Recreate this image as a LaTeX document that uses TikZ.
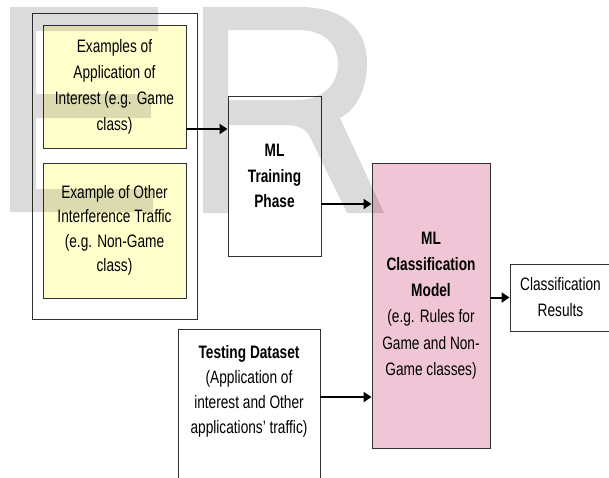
\documentclass[tikz,border=0pt]{standalone}
\usepackage{fontspec}
\setmainfont[FakeStretch=0.76]{Liberation Sans}
\usetikzlibrary{arrows.meta}
\definecolor{boxyellow}{HTML}{FFFFCC}
\definecolor{boxpink}{HTML}{F0C6D6}
\definecolor{edgegray}{HTML}{333333}
\begin{document}
\begin{tikzpicture}[x=1pt,y=-1pt,
  box/.style={draw=edgegray, line width=0.9pt, align=center, inner sep=0pt},
  txt/.style={font=\fontsize{18}{26}\selectfont},
  arr/.style={line width=2pt, -{Triangle[length=8pt,width=10pt]}},
  wmark/.style={fill=black, fill opacity=0.14, even odd rule, draw=none}]
\useasboundingbox (0,0) rectangle (609,477);
% boxes
\node[box, minimum width=165pt, minimum height=306pt] (outer) at (114.5,166) {};
\node[box, txt, fill=boxyellow, minimum width=143pt, minimum height=123pt] (ex1) at (114.5,86.5)
  {Examples of\\Application of\\Interest (e.g. Game\\class)};
\node[box, fill=boxyellow, minimum width=143pt, minimum height=135pt,
  font=\fontsize{18}{24.5}\selectfont] (ex2) at (114.5,230.5)
  {Example of Other\\Interference Traffic\\(e.g. Non-Game\\class)};
\node[box, fill=white, minimum width=93pt, minimum height=160pt,
  font=\fontsize{18}{25.5}\selectfont] (train) at (274.5,176)
  {{\bfseries ML}\\{\bfseries Training}\\{\bfseries Phase}};
\node[box, fill=boxpink, minimum width=118pt, minimum height=285pt,
  font=\fontsize{18}{26.3}\selectfont] (cls) at (431,305.5)
  {{\bfseries ML}\\{\bfseries Classification}\\{\bfseries Model}\\(e.g. Rules for\\Game and Non-\\Game classes)};
\node[box, fill=white, minimum width=101pt, minimum height=67pt,
  font=\fontsize{18}{26}\selectfont] (res) at (560.5,297.5)
  {Classification\\Results};
\node[box, fill=white, minimum width=142pt, minimum height=170pt] (test) at (249,414) {};
\node[align=center, inner sep=0pt, font=\fontsize{18}{25}\selectfont] (testtxt) at (249,391)
  {{\bfseries Testing Dataset}\\(Application of\\interest and Other\\applications’ traffic)};
% connectors
\coordinate (t1) at ([yshift=47pt]train.west);
\draw[arr] (t1 -| ex1.east) -- (t1);
\coordinate (t2) at ([yshift=-28pt]train.east);
\draw[arr] (t2) -- (t2 -| cls.west);
\coordinate (t3) at ([yshift=17pt]test.east);
\draw[arr] (t3) -- (t3 -| cls.west);
\draw[arr] (res.west -| cls.east) -- (res.west);
% watermark
\path[wmark] (10,7) -- (158,7) -- (158,31) -- (36,31) -- (36,94) -- (151,94) -- (151,118)
  -- (36,118) -- (36,189) -- (153,189) -- (153,212) -- (10,212) -- cycle;
\path[wmark] (203,7) -- (300,7) .. controls (345,7) and (367,30) .. (367,62)
  .. controls (367,92) and (355,110) .. (340,118) -- (384,213) -- (347,213) -- (309,135)
  .. controls (303,127) and (296,125) .. (285,125) -- (228,125) -- (228,213) -- (203,213) -- cycle
  (228,30) -- (298,30) .. controls (325,30) and (338,45) .. (338,64)
  .. controls (338,85) and (322,100) .. (298,100) -- (228,100) -- cycle;
\end{tikzpicture}
\end{document}
